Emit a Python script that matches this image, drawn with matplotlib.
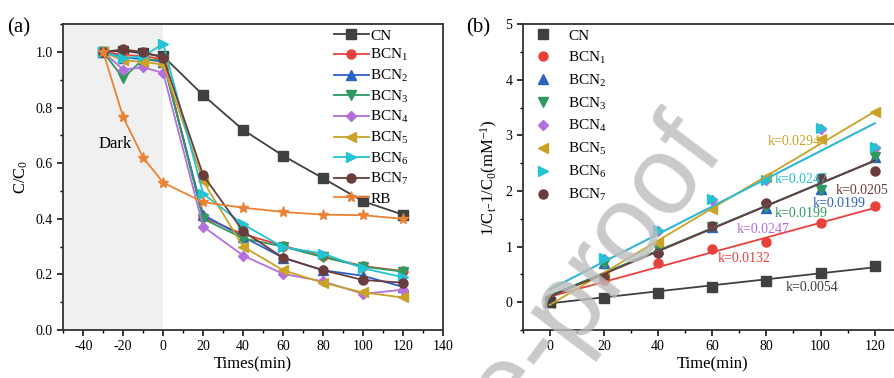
import numpy as np
import matplotlib
matplotlib.use("Agg")
import matplotlib.pyplot as plt

plt.rcParams['font.family'] = ['Liberation Serif', 'DejaVu Serif']
plt.rcParams['mathtext.fontset'] = 'custom'
plt.rcParams['mathtext.rm'] = 'Liberation Serif'
plt.rcParams['mathtext.it'] = 'Liberation Serif:italic'
plt.rcParams['axes.unicode_minus'] = False

# ---- panel (a) data: C/C0 vs time ----
time_a = [-30, -20, -10, 0, 20, 40, 60, 80, 100, 120]
cn_a = [1.0, 1.005, 0.995, 0.985, 0.845, 0.72, 0.627, 0.546, 0.463, 0.415]
bcn1_a = [1.0, 0.99, 0.985, 0.975, 0.405, 0.345, 0.303, 0.265, 0.23, 0.212]
bcn2_a = [1.0, 0.98, 0.975, 0.965, 0.415, 0.335, 0.26, 0.215, 0.195, 0.155]
bcn3_a = [1.0, 0.906, 0.975, 0.97, 0.40, 0.33, 0.30, 0.262, 0.228, 0.21]
bcn4_a = [1.0, 0.937, 0.945, 0.925, 0.372, 0.268, 0.202, 0.175, 0.13, 0.145]
bcn5_a = [1.0, 0.97, 0.965, 0.955, 0.535, 0.30, 0.215, 0.17, 0.135, 0.117]
bcn6_a = [1.0, 0.978, 0.985, 1.03, 0.49, 0.38, 0.298, 0.275, 0.222, 0.19]
bcn7_a = [1.0, 1.01, 1.0, 0.98, 0.557, 0.355, 0.26, 0.215, 0.18, 0.17]
rb_a = [1.0, 0.765, 0.62, 0.53, 0.46, 0.44, 0.425, 0.415, 0.413, 0.40]

# ---- panel (b) data: 1/Ct - 1/C0 vs time ----
time_b = [0, 20, 40, 60, 80, 100, 120]
cn_b = [0.0, 0.08, 0.17, 0.28, 0.38, 0.53, 0.65]
bcn1_b = [0.05, 0.40, 0.71, 0.95, 1.08, 1.42, 1.73]
bcn2_b = [0.0, 0.70, 0.95, 1.35, 1.70, 2.03, 2.62]
bcn3_b = [0.0, 0.68, 0.97, 1.35, 1.72, 2.01, 2.62]
bcn4_b = [0.03, 0.78, 1.28, 1.83, 2.20, 3.12, 2.77]
bcn5_b = [-0.02, 0.45, 1.07, 1.67, 2.25, 2.93, 3.43]
bcn6_b = [0.02, 0.80, 1.30, 1.85, 2.20, 3.14, 2.79]
bcn7_b = [0.06, 0.45, 0.88, 1.38, 1.78, 2.23, 2.36]

# fitted lines (slope, intercept)
fit_slope = [0.0054, 0.0133, 0.0202, 0.0202, 0.0249, 0.0290, 0.0249, 0.0204]
fit_icpt = [-0.02, 0.10, 0.12, 0.12, 0.23, -0.05, 0.23, 0.10]

k_labels = ["k=0.0054", "k=0.0132", "k=0.0199", "k=0.0199",
            "k=0.0247", "k=0.0294", "k=0.0247", "k=0.0205"]
k_x = [87, 62, 97, 83, 69, 80.5, 83, 105.5]
k_y = [0.27, 0.79, 1.78, 1.60, 1.31, 2.89, 2.20, 2.01]

names = ["CN", "BCN$_1$", "BCN$_2$", "BCN$_3$", "BCN$_4$",
         "BCN$_5$", "BCN$_6$", "BCN$_7$"]
colors = ["#404040", "#e8413c", "#2a62c4", "#2f9960", "#b36fdc",
          "#c9a227", "#22c3d2", "#6b3c3c"]
markers = ["s", "o", "^", "v", "D", "<", ">", "o"]
rb_color = "#ea8236"

series_a = [cn_a, bcn1_a, bcn2_a, bcn3_a, bcn4_a, bcn5_a, bcn6_a, bcn7_a]
series_b = [cn_b, bcn1_b, bcn2_b, bcn3_b, bcn4_b, bcn5_b, bcn6_b, bcn7_b]

fig = plt.figure(figsize=(8.94, 3.78), dpi=100)
ax1 = fig.add_axes([0.0708, 0.127, 0.4247, 0.8087])
ax2 = fig.add_axes([0.5847, 0.127, 0.424, 0.8087])

# ---- panel (a) ----
ax1.axvspan(-50, 0, color="#f0f0f0", zorder=0, lw=0)
for y, c, m, n in zip(series_a, colors, markers, names):
    ms = 5.5 if m == "D" else 6.5
    ax1.plot(time_a, y, color=c, marker=m, ms=ms, lw=1.3, label=n)
ax1.plot(time_a, rb_a, color=rb_color, marker="*", ms=8, lw=1.3, label="RB")
ax1.text(-24, 0.67, "Dark", fontsize=12, ha="center", va="center")

ax1.set_xlim(-50, 140)
ax1.set_ylim(0, 1.1)
ax1.set_xticks(np.arange(-40, 141, 20))
ax1.set_xticks(np.arange(-50, 141, 10), minor=True)
ax1.set_yticks(np.arange(0, 1.01, 0.2))
ax1.set_yticks(np.arange(0, 1.11, 0.1), minor=True)
ax1.yaxis.set_major_formatter(matplotlib.ticker.FormatStrFormatter("%.1f"))
ax1.set_xlabel("Times(min)", fontsize=12, labelpad=2)
ax1.set_ylabel("C/C$_0$", fontsize=12, labelpad=4)
ax1.legend(loc="upper left", bbox_to_anchor=(0.70, 1.0), frameon=False,
           fontsize=11, handlelength=2.3, handletextpad=0.1,
           labelspacing=0.3, borderaxespad=0.1, borderpad=0.2)

# ---- panel (b) ----
xfit = np.array([0, 120])
for i in [4, 1, 2, 3, 5, 6, 7, 0]:
    ms = 5.5 if markers[i] == "D" else 6.5
    ax2.plot(time_b, series_b[i], ls="none", marker=markers[i], ms=ms,
             color=colors[i], label=names[i])
for s, b, c in zip(fit_slope, fit_icpt, colors):
    ax2.plot(xfit, s * xfit + b, color=c, lw=1.3)
for t, x, y, c in zip(k_labels, k_x, k_y, colors):
    ax2.text(x, y, t, color=c, fontsize=10, ha="left", va="center")

ax2.set_xlim(-10, 130)
ax2.set_ylim(-0.5, 5)
ax2.set_xticks(np.arange(0, 121, 20))
ax2.set_xticks(np.arange(-10, 131, 10), minor=True)
ax2.set_yticks(np.arange(0, 5.1, 1))
ax2.set_yticks(np.arange(-0.5, 5.01, 0.5), minor=True)
ax2.set_xlabel("Time(min)", fontsize=12, labelpad=2)
ax2.set_ylabel("1/C$_\\mathrm{t}$-1/C$_0$(mM$^{-1}$)", fontsize=12, labelpad=4)
handles, labels = ax2.get_legend_handles_labels()
order = [7, 1, 2, 3, 0, 4, 5, 6]
ax2.legend([handles[j] for j in order], [labels[j] for j in order],
           loc="upper left", bbox_to_anchor=(0.02, 1.0), frameon=False,
           fontsize=11, handlelength=1.0, handletextpad=1.2,
           labelspacing=0.45, borderaxespad=0.1, borderpad=0.2)

for ax in (ax1, ax2):
    for sp in ax.spines.values():
        sp.set_linewidth(1.3)
        sp.set_color("#333333")
    ax.tick_params(which="major", direction="out", length=4, width=1.1,
                   labelsize=10, top=False, right=False)
    ax.tick_params(which="minor", direction="out", length=2.5, width=1.0,
                   top=False, right=False)

fig.text(0.008, 0.915, "(a)", fontsize=15)
fig.text(0.521, 0.915, "(b)", fontsize=15)

# watermark
fig.text(0.812, 0.60, "Journal Pre-proof", fontsize=80, family="Liberation Sans",
         color="#bdbdbd", alpha=0.8, rotation=53, rotation_mode="anchor",
         ha="right", va="baseline", zorder=10)

fig.savefig("out.png", dpi=100)
